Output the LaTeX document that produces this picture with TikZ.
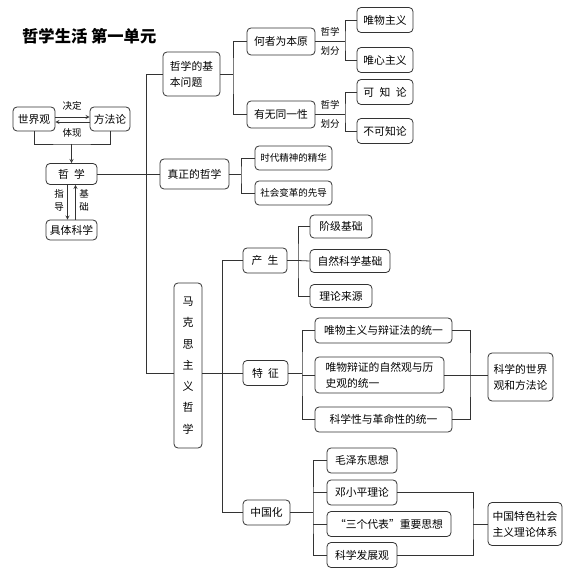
\documentclass[tikz,border=0pt]{standalone}
\usepackage{fontspec}
\setmainfont{Noto Sans CJK SC}

\tikzset{
  box/.style={draw=black!80, line width=0.8pt, rounded corners=4pt, inner sep=0pt,
    minimum height=25pt, font=\fontsize{10.8}{16}\selectfont},
  lbl/.style={inner sep=0pt, font=\fontsize{9.5}{13}\selectfont},
  link/.style={draw=black!80, line width=0.8pt}
}

\begin{document}
\begin{tikzpicture}[x=1pt, y=-1pt, >=stealth]
\useasboundingbox (0,0) rectangle (587,583);

\node[anchor=west, inner sep=0pt, font=\bfseries\fontsize{16.3}{18}\selectfont] (title) at (22,36) {哲学生活 第一单元};

\node[box, minimum width=42pt, minimum height=24pt] (shijieguan) at (34,119) {世界观};
\node[box, minimum width=40pt, minimum height=24pt] (fangfalun) at (110,119) {方法论};
\node[box, minimum width=51pt, minimum height=21pt] (zhexue) at (71.5,174) {哲\hspace{0.5em}学};
\node[box, minimum width=51pt, minimum height=20pt] (juti) at (71.5,230) {具体科学};

\draw [link, ->] ([yshift=2pt]shijieguan.east) -- ([yshift=2pt]fangfalun.west);
\draw [link, ->] ([yshift=-3pt]fangfalun.west) -- ([yshift=-3pt]shijieguan.east);
\node[lbl] (jueding) at (72,106) {决定};
\node[lbl] (tixian) at (72,133) {体现};

\coordinate (join) at (71.5,144);
\draw [link] (shijieguan.south) |- (join) -| (fangfalun.south);
\draw [link, ->] (join) -- (zhexue.north);

\draw [link, ->] ([xshift=-4pt]zhexue.south) -- ([xshift=-4pt]juti.north);
\draw [link, <-] ([xshift=4pt]zhexue.south) -- ([xshift=4pt]juti.north);
\node[lbl, align=center] (zhidao) at (59,200) {指\\导};
\node[lbl, align=center] (jichu) at (84,200) {基\\础};

\node[box, minimum width=57pt, minimum height=44pt, align=left] (jiben) at (191.5,74) {哲学的基\\本问题};
\node[box, minimum width=69pt, minimum height=30pt] (zhenzheng) at (194.5,174) {真正的哲学};
\node[box, minimum width=28pt, minimum height=165pt, align=center, font=\fontsize{11}{21.3}\selectfont] (makesi) at (188,365.5) {马\\克\\思\\主\\义\\哲\\学};

\coordinate (trunkA) at (146,373);
\draw [link] (jiben.west) -| (trunkA) -- (makesi.west |- trunkA);
\draw [link] (zhexue.east) -- (zhenzheng.west);

\node[box, minimum width=68pt, minimum height=27pt] (hezhe) at (281,41.5) {何者为本原};
\node[box, minimum width=68pt, minimum height=27pt] (youwu) at (281,114.5) {有无同一性};
\coordinate (c1) at (233,74);
\draw [link] (jiben.east) -- (c1);
\draw [link] (hezhe.west) -| (c1) |- (youwu.west);

\node[box, minimum width=56pt] (weiwu) at (385,20) {唯物主义};
\node[box, minimum width=56pt] (weixin) at (385,60) {唯心主义};
\node[box, minimum width=56pt] (kezhi) at (385,92) {可\hspace{0.5em}知\hspace{0.5em}论};
\node[box, minimum width=56pt] (bukezhi) at (385,131) {不可知论};

\coordinate (c2) at (345,41.5);
\draw [link] (hezhe.east) -- (c2);
\draw [link] (weiwu.west) -| (c2) |- (weixin.west);
\node[lbl] (zx1) at (330,32) {哲学};
\node[lbl] (hf1) at (330,51) {划分};

\coordinate (c3) at (345,114.5);
\draw [link] (youwu.east) -- (c3);
\draw [link] (kezhi.west) -| (c3) |- (bukezhi.west);
\node[lbl] (zx2) at (330,105) {哲学};
\node[lbl] (hf2) at (330,124) {划分};

\node[box, minimum width=77pt, minimum height=24pt, font=\fontsize{9.5}{12}\selectfont] (shidai) at (293.5,158) {时代精神的精华};
\node[box, minimum width=77pt, minimum height=24pt, font=\fontsize{9.5}{12}\selectfont] (shehui) at (293.5,193) {社会变革的先导};
\coordinate (c4) at (241,174);
\draw [link] (zhenzheng.east) -- (c4);
\draw [link] (shidai.west) -| (c4) |- (shehui.west);

\node[box, minimum width=44pt] (chansheng) at (265,260.5) {产\hspace{0.5em}生};
\node[box, minimum width=45pt] (tezheng) at (265.5,373) {特\hspace{0.5em}征};
\node[box, minimum width=47pt] (zhongguohua) at (266.5,512.5) {中国化};
\coordinate (trunkB) at (222,260.5);
\draw [link] (chansheng.west) -- (trunkB) |- (zhongguohua.west);
\draw [link] (makesi.east |- trunkA) -- (tezheng.west);

\node[box, minimum width=62pt, minimum height=23pt] (jieji) at (341,226.5) {阶级基础};
\node[box, minimum width=80pt, minimum height=23pt] (ziran) at (350,261) {自然科学基础};
\node[box, minimum width=62pt, minimum height=23pt] (lilun) at (341,296) {理论来源};
\coordinate (c5) at (298,260.5);
\draw [link] (chansheng.east) -- (c5);
\draw [link] (jieji.west) -| (c5) |- (lilun.west);
\draw [link] (c5) -- (ziran.west);

\node[box, minimum width=137pt] (tz1) at (383.5,330.5) {唯物主义与辩证法的统一};
\node[box, minimum width=129pt, minimum height=36pt, align=left] (tz2) at (379.5,375) {唯物辩证的自然观与历\\史观的统一};
\node[box, minimum width=137pt] (tz3) at (383.5,419.5) {科学性与革命性的统一};
\coordinate (c6) at (302,373);
\draw [link] (tezheng.east) -- (c6);
\draw [link] (tz1.west) -| (c6) |- (tz3.west);
\draw [link] (c6 |- tz2.west) -- (tz2.west);

\node[box, minimum width=65pt, minimum height=48pt, align=left] (kexue) at (520.5,377) {科学的世界\\观和方法论};
\coordinate (c7) at (470,375);
\draw [link] (tz1.east) -| (c7) |- (tz3.east);
\draw [link] (tz2.east) -- (kexue.west |- tz2.east);

\node[box, minimum width=70pt] (mao) at (362,460.5) {毛泽东思想};
\node[box, minimum width=70pt] (deng) at (362,492.5) {邓小平理论};
\node[box, minimum width=124pt] (sange) at (389,524) {“三个代表”重要思想};
\node[box, minimum width=70pt] (kefa) at (362,555) {科学发展观};
\coordinate (c8) at (313,512.5);
\draw [link] (zhongguohua.east) -- (c8);
\draw [link] (mao.west) -| (c8) |- (kefa.west);
\draw [link] (c8 |- deng.west) -- (deng.west);
\draw [link] (c8 |- sange.west) -- (sange.west);

\node[box, minimum width=74pt, minimum height=43pt, align=left] (tese) at (525,524) {中国特色社会\\主义理论体系};
\coordinate (c9) at (473,524);
\draw [link] (deng.east) -| (c9) |- (kefa.east);
\draw [link] (c9) -- (tese.west);
\end{tikzpicture}
\end{document}
